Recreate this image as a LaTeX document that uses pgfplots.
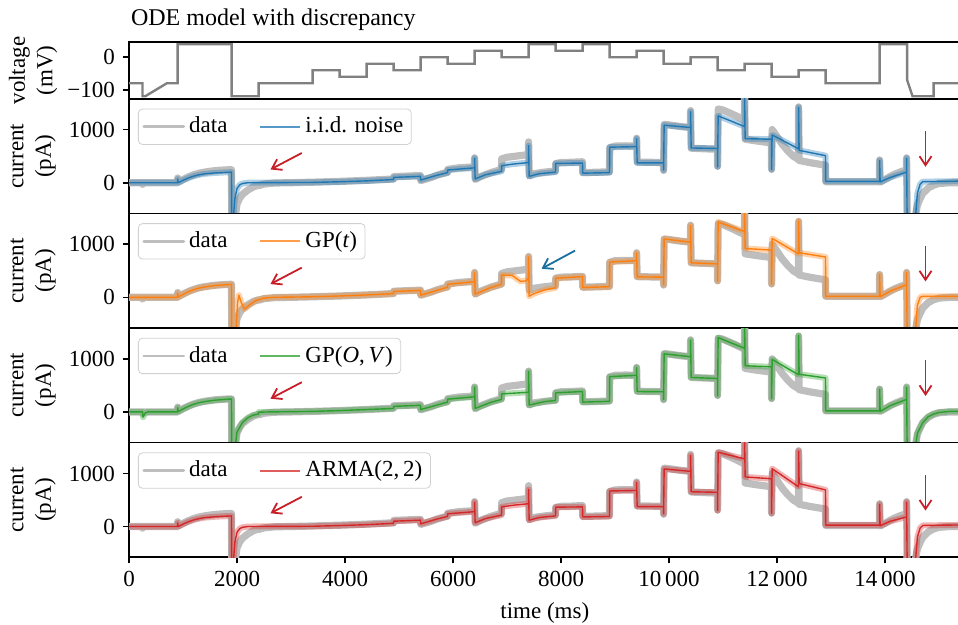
\documentclass[border=0pt]{standalone}
\usepackage{fontspec}
\setmainfont{Liberation Serif}
\usepackage{pgfplots}
\pgfplotsset{compat=1.18}
\usepackage{pgfplotstable}
\usetikzlibrary{arrows.meta}

\definecolor{datagray}{RGB}{190,190,190}
\definecolor{vgray}{RGB}{128,128,128}
\definecolor{tabblue}{RGB}{31,119,180}
\definecolor{taborange}{RGB}{255,127,14}
\definecolor{tabgreen}{RGB}{44,160,44}
\definecolor{tabred}{RGB}{214,39,40}
\definecolor{arrred}{RGB}{200,30,40}
\definecolor{arrblue}{RGB}{25,110,160}

% voltage protocol (mV)
\pgfplotstableread{
t V
0 -80
250 -80
250 -120
300 -120
700 -80
900 -80
900 40
1900 40
1900 -120
2400 -120
2400 -80
3400 -80
3400 -40
3900 -40
3900 -60
4400 -60
4400 -20
4900 -20
4900 -40
5400 -40
5400 0
5900 0
5900 -20
6400 -20
6400 20
6900 20
6900 0
7400 0
7400 40
7900 40
7900 20
8400 20
8400 40
8900 40
8900 0
9400 0
9400 20
9900 20
9900 -20
10400 -20
10400 0
10900 0
10900 -40
11400 -40
11400 -20
11900 -20
11900 -60
12400 -60
12400 -40
12900 -40
12900 -80
13900 -80
13900 40
14410 40
14410 -70
14510 -120
14900 -120
14900 -80
15400 -80
}\tabV

% recorded current (pA)
\pgfplotstableread{
t I
0 0
250 0
252 -30
260 0
900 0
902 90
910 10
1000 60
1100 110
1200 150
1300 180
1400 200
1500 215
1600 228
1700 236
1800 242
1898 246
1902 -700
1960 -700
2000 -400
2050 -290
2100 -220
2200 -140
2300 -80
2398 -45
2402 -55
2500 -25
2700 -5
3000 0
3400 10
3900 25
4400 45
4898 70
4902 115
5398 135
5402 40
5500 70
5600 100
5700 140
5800 170
5898 195
5902 250
6100 280
6398 300
6400 470
6410 60
6500 110
6700 190
6898 250
6902 450
7000 480
7200 505
7398 530
7400 770
7410 130
7500 170
7700 200
7898 220
7902 360
8000 380
8200 385
8398 395
8402 190
8898 205
8902 660
9000 690
9200 695
9398 690
9400 840
9410 390
9898 380
9900 230
9910 1100
10000 1090
10200 1060
10398 1040
10400 1360
10410 650
10898 630
10900 310
10910 1390
11000 1370
11200 1280
11398 1180
11400 1700
11410 820
11600 790
11898 750
11900 250
11910 1000
12000 870
12100 720
12200 600
12300 500
12398 440
12400 1430
12410 420
12600 380
12898 330
12902 20
13898 20
13900 430
13910 10
14000 60
14100 120
14200 170
14300 210
14398 240
14400 470
14410 -700
14550 -700
14600 -420
14650 -300
14700 -200
14800 -100
14900 -45
15000 -15
15200 0
15400 0
}\tabD

% i.i.d. noise model
\pgfplotstableread{
t I
0 0
900 0
902 70
910 0
1000 45
1100 90
1200 125
1300 150
1400 168
1600 185
1800 195
1898 200
1902 -700
1930 -700
1960 -300
2000 -110
2050 -40
2100 -15
2200 0
3400 5
3900 18
4400 35
4898 60
4902 100
5398 120
5402 50
5500 80
5700 140
5898 190
5902 240
6398 280
6400 460
6410 70
6600 150
6898 215
6902 320
7100 350
7398 380
7400 700
7410 120
7600 170
7898 200
7902 365
8398 370
8402 180
8898 190
8902 670
9398 680
9400 830
9410 375
9898 375
9900 240
9910 1085
10398 1040
10400 1340
10410 655
10898 645
10900 300
10910 1260
11398 1060
11400 1650
11410 830
11898 820
11900 250
11910 900
12398 640
12400 1420
12410 610
12898 510
12902 25
13898 25
13900 420
13910 15
14100 100
14398 200
14400 460
14410 -700
14560 -700
14600 -200
14650 -30
14700 20
15400 30
}\tabB

% GP(t) model
\pgfplotstableread{
t I
0 0
900 0
902 80
910 5
1000 55
1100 105
1200 145
1300 175
1400 195
1600 222
1800 238
1898 243
1902 -700
1980 -700
2010 -100
2035 40
2080 -100
2140 -220
2250 -130
2350 -60
2500 -15
2700 0
3400 10
3900 25
4400 45
4898 70
4902 110
5398 130
5402 40
5600 100
5898 190
5902 245
6398 295
6400 465
6410 60
6700 185
6898 245
6902 420
7100 410
7250 300
7350 310
7398 370
7400 760
7410 20
7500 70
7700 140
7898 180
7902 360
8398 390
8402 185
8898 200
8902 665
9398 690
9400 835
9410 385
9898 380
9900 235
9910 1100
10398 1040
10400 1350
10410 650
10898 630
10900 305
10910 1420
11398 1240
11400 1700
11410 920
11898 890
11900 250
11910 1110
12398 820
12400 1440
12410 840
12898 760
12902 20
13898 20
13900 430
13910 10
14100 120
14398 235
14400 465
14410 -700
14560 -700
14600 -150
14650 0
14700 20
15400 20
}\tabO

% GP(O,V) model
\pgfplotstableread{
t I
0 0
250 0
260 -100
300 -20
350 0
900 0
902 80
910 5
1000 55
1100 105
1200 145
1300 175
1400 195
1600 222
1800 238
1898 243
1902 -700
1960 -700
2000 -380
2100 -200
2200 -110
2300 -60
2398 -40
2402 -5
2600 0
3400 10
3900 25
4400 45
4898 65
4902 105
5398 125
5402 45
5600 100
5898 185
5902 240
6398 285
6400 465
6410 65
6700 180
6898 235
6902 340
7398 370
7400 760
7410 130
7700 195
7898 215
7902 360
8398 385
8402 185
8898 200
8902 665
9398 690
9400 835
9410 385
9898 380
9900 235
9910 1095
10398 1040
10400 1350
10410 650
10898 630
10900 305
10910 1400
11398 1200
11400 1700
11410 870
11898 850
11900 250
11910 990
12398 700
12400 1440
12410 710
12898 640
12902 20
13898 20
13900 430
13910 10
14100 120
14398 235
14400 465
14410 -700
14560 -700
14600 -400
14700 -200
14800 -90
14900 -40
15000 -10
15200 10
15400 10
}\tabG

% ARMA(2,2) model
\pgfplotstableread{
t I
0 0
900 0
902 70
910 0
1000 45
1100 90
1200 125
1300 150
1400 168
1600 185
1800 195
1898 200
1902 -700
1930 -700
1960 -300
2000 -110
2050 -40
2100 -15
2200 0
3400 5
3900 18
4400 35
4898 60
4902 100
5398 120
5402 50
5500 80
5700 140
5898 190
5902 240
6398 280
6400 460
6410 70
6600 150
6898 215
6902 370
7100 400
7398 430
7400 700
7410 120
7600 170
7898 200
7902 365
8398 370
8402 180
8898 190
8902 670
9398 680
9400 830
9410 375
9898 375
9900 240
9910 1085
10398 1040
10400 1340
10410 655
10898 645
10900 300
10910 1400
11398 1275
11400 1650
11410 935
11898 900
11900 250
11910 1090
12398 750
12400 1420
12410 810
12898 690
12902 25
13898 25
13900 420
13910 15
14100 100
14398 180
14400 460
14410 -700
14560 -700
14600 -200
14650 -30
14700 20
15400 30
}\tabR

\tikzset{
  arr/.style={#1, line width=0.9pt, -{Straight Barb[length=4.5pt,width=6pt]}},
}

\pgfplotsset{
  base/.style={
    scale only axis, width=415.8pt,
    xmin=0, xmax=15400,
    axis line style={line width=0.8pt},
    tick align=outside, tick pos=left,
    major tick length=3pt,
    tick style={line width=0.8pt, black},
    xtick=\empty,
    scaled x ticks=false,
    /pgf/number format/assume math mode=true,
    ylabel style={align=center, at={(axis description cs:-0.1154,0.5)}, anchor=center},
  },
  panel/.style={
    base, height=57.3pt,
    ymin=-580, ymax=1580,
    ytick={0,1000}, yticklabels={0,1000},
    ylabel={current\\(pA)},
    legend columns=2,
    legend cell align=left,
    legend style={at={(axis description cs:0.0108,0.915)}, anchor=north west,
      draw=black!18, rounded corners=2pt, fill=white, fill opacity=0.8,
      draw opacity=1, text opacity=1, inner sep=2pt,
      /tikz/every even column/.append style={column sep=14pt}},
    legend image code/.code={\draw[##1] (0pt,0pt) -- (20pt,0pt);},
  },
  datline/.style={datagray, line width=3.6pt, line join=round, line cap=round,
    legend image post style={line width=1.4pt}},
  band/.style={#1, opacity=0.35, line width=3pt, line join=round, forget plot},
  mline/.style={#1, line width=0.7pt, line join=round,
    legend image post style={line width=1pt, opacity=0.75}},
}

\begin{document}
\fontsize{11.5}{13.8}\selectfont
\begin{tikzpicture}
% voltage
\begin{axis}[base, at={(64.5pt,263.05pt)}, anchor=south west, height=28.3pt,
    ymin=-128, ymax=46, ytick={-100,0}, yticklabels={−100,0},
    ylabel={voltage\\(mV)}, clip=false]
  \addplot[vgray, line width=1.2pt] table[x=t,y=V] {\tabV};
  \node[anchor=base west, font=\fontsize{12}{14}\selectfont, yshift=8.6pt, inner sep=0pt] at (rel axis cs:0.002,1) {ODE model with discrepancy};
\end{axis}

% i.i.d. noise
\begin{axis}[panel, at={(64.5pt,205.75pt)}, anchor=south west]
  \addplot[datline] table[x=t,y=I] {\tabD};
  \addlegendentry{data}
  \addplot[band=tabblue] table[x=t,y=I] {\tabB};
  \addplot[mline=tabblue] table[x=t,y=I] {\tabB};
  \addlegendentry{i.i.d. noise}
  \draw[arr=arrred] (axis cs:3200,560) -- (axis cs:2620,250);
  \draw[arr=arrred] (axis cs:14750,970) -- (axis cs:14750,300);
\end{axis}

% GP(t)
\begin{axis}[panel, at={(64.5pt,148.45pt)}, anchor=south west]
  \addplot[datline] table[x=t,y=I] {\tabD};
  \addlegendentry{data}
  \addplot[band=taborange] table[x=t,y=I] {\tabO};
  \addplot[mline=taborange] table[x=t,y=I] {\tabO};
  \addlegendentry{GP(\textit{t})}
  \draw[arr=arrred] (axis cs:3200,560) -- (axis cs:2620,250);
  \draw[arr=arrred] (axis cs:14750,970) -- (axis cs:14750,300);
  \draw[arr=arrblue] (axis cs:8260,880) -- (axis cs:7640,540);
\end{axis}

% GP(O,V)
\begin{axis}[panel, at={(64.5pt,91.15pt)}, anchor=south west]
  \addplot[datline] table[x=t,y=I] {\tabD};
  \addlegendentry{data}
  \addplot[band=tabgreen] table[x=t,y=I] {\tabG};
  \addplot[mline=tabgreen] table[x=t,y=I] {\tabG};
  \addlegendentry{GP(\textit{O},\,\textit{V})}
  \draw[arr=arrred] (axis cs:3200,560) -- (axis cs:2620,250);
  \draw[arr=arrred] (axis cs:14750,970) -- (axis cs:14750,300);
\end{axis}

% ARMA(2,2)
\begin{axis}[panel, at={(64.5pt,33.85pt)}, anchor=south west,
    xtick={0,2000,4000,6000,8000,10000,12000,14000},
    xticklabels={0,2000,4000,6000,8000,10\,000,12\,000,14\,000},
    xlabel={time (ms)}]
  \addplot[datline] table[x=t,y=I] {\tabD};
  \addlegendentry{data}
  \addplot[band=tabred] table[x=t,y=I] {\tabR};
  \addplot[mline=tabred] table[x=t,y=I] {\tabR};
  \addlegendentry{ARMA(2,\,2)}
  \draw[arr=arrred] (axis cs:3200,560) -- (axis cs:2620,250);
  \draw[arr=arrred] (axis cs:14750,970) -- (axis cs:14750,300);
\end{axis}

\pgfresetboundingbox
\useasboundingbox (0,0) rectangle (479pt,312.5pt);
\end{tikzpicture}
\end{document}
